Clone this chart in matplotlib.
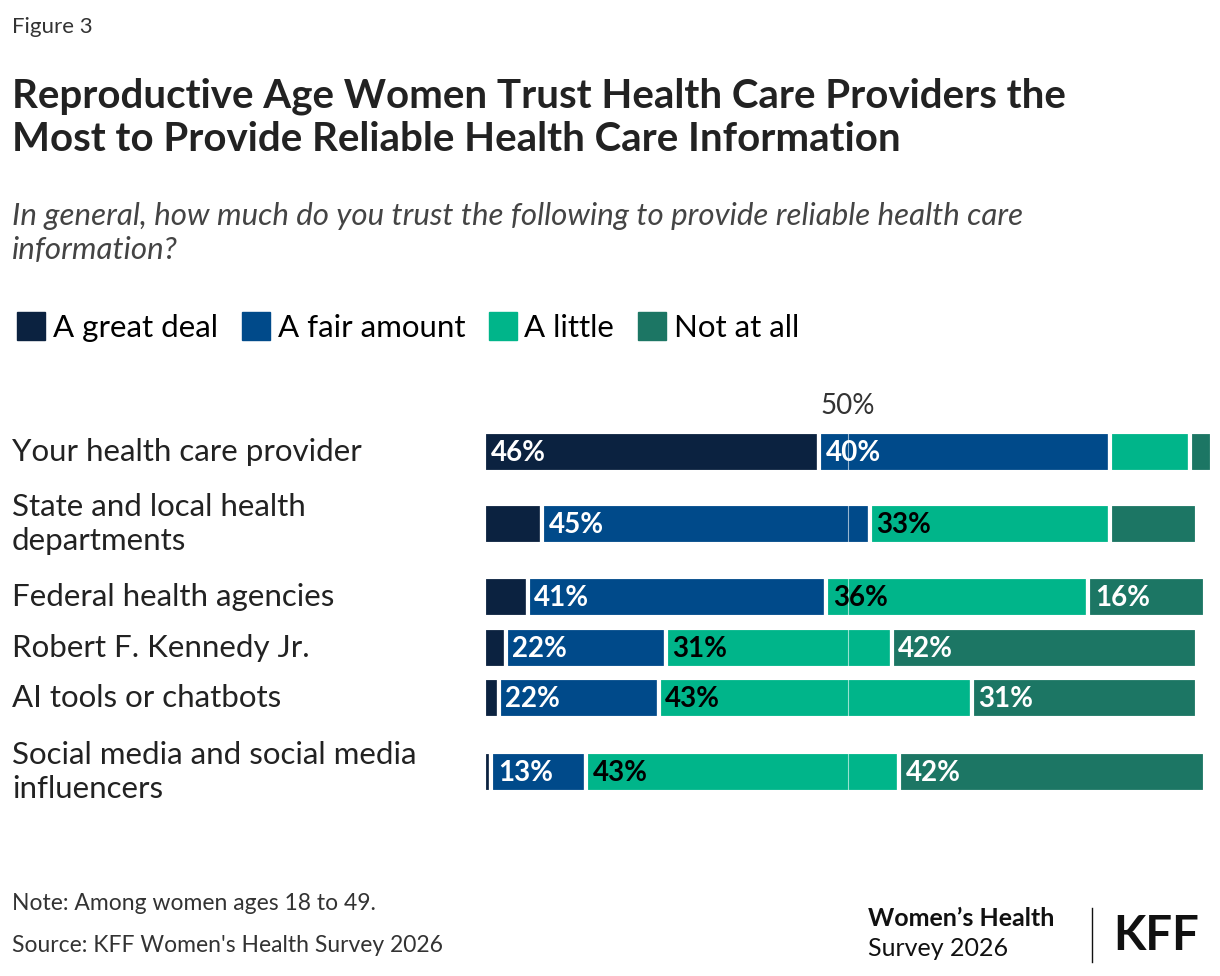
import matplotlib.pyplot as plt
from matplotlib.lines import Line2D

plt.rcParams['font.family'] = ['Lato', 'DejaVu Sans']

categories = ["Your health care provider", "State and local health\ndepartments",
              "Federal health agencies", "Robert F. Kennedy Jr.",
              "AI tools or chatbots", "Social media and social media\ninfluencers"]
series = ["A great deal", "A fair amount", "A little", "Not at all"]
values = [
    [46, 8, 6, 3, 2, 1],
    [40, 45, 41, 22, 22, 13],
    [11, 33, 36, 31, 43, 43],
    [3, 12, 16, 42, 31, 42],
]
colors = ["#0b2240", "#004a8a", "#00b58a", "#1c7664"]
text_colors = ["white", "white", "black", "white"]
row_y = [452, 524, 597, 648, 698, 772]  # row centres in pixels

W, H = 1220, 976
fig = plt.figure(figsize=(W / 100, H / 100), dpi=100)

ax = fig.add_axes([484 / W, 1 - 820 / H, 728 / W, 420 / H])
ax.set_xlim(0, 100)
ax.set_ylim(820, 400)
ax.axis("off")

left = [0] * len(categories)
for s, vals in enumerate(values):
    ax.barh(row_y, vals, left=left, height=40, color=colors[s],
            edgecolor="white", linewidth=3)
    for i, v in enumerate(vals):
        if v >= 13:
            ax.text(left[i] + 0.9, row_y[i] + 1, f"{v}%", va="center", ha="left",
                    fontsize=20, fontweight="bold", color=text_colors[s])
    left = [l + v for l, v in zip(left, vals)]

ax.axvline(50, color="white", lw=0.8, alpha=0.6, ymin=0, ymax=0.93)
ax.text(50, 406, "50%", ha="center", va="center", fontsize=20, color="#333333")

for c, y in zip(categories, row_y):
    fig.text(12 / W, 1 - y / H, c, ha="left", va="center", fontsize=22.5,
             color="#222222", linespacing=1.25)

fig.text(12 / W, 1 - 27 / H, "Figure 3", fontsize=16, color="#333333", va="center")
fig.text(12 / W, 1 - 118 / H,
         "Reproductive Age Women Trust Health Care Providers the\nMost to Provide Reliable Health Care Information",
         fontsize=29, fontweight="bold", color="#222222", va="center", linespacing=1.2)
fig.text(12 / W, 1 - 233 / H,
         "In general, how much do you trust the following to provide reliable health care\ninformation?",
         fontsize=22.5, style="italic", color="#444444", va="center", linespacing=1.25)

handles = [Line2D([], [], marker="s", ls="", markersize=20, color=c) for c in colors]
fig.legend(handles, series, loc="center left", bbox_to_anchor=(0, 1 - 328 / H),
           ncol=4, frameon=False, fontsize=22.5, handlelength=0.8, handletextpad=0.3,
           columnspacing=0.8, borderaxespad=0.2)

fig.text(12 / W, 1 - 903 / H, "Note: Among women ages 18 to 49.", fontsize=16.5,
         color="#333333", va="center")
fig.text(12 / W, 1 - 946 / H, "Source: KFF Women's Health Survey 2026", fontsize=16.5,
         color="#333333", va="center")
fig.text(868 / W, 1 - 918 / H, "Women’s Health", fontsize=18, fontweight="bold",
         color="#111111", va="center")
fig.text(868 / W, 1 - 948 / H, "Survey 2026", fontsize=18, color="#111111", va="center")
fig.add_artist(Line2D([1092 / W, 1092 / W], [1 - 908 / H, 1 - 962 / H], color="#111111", lw=1))
fig.text(1113 / W, 1 - 936 / H, "KFF", fontsize=34, fontweight="bold", color="#111111",
         va="center")

fig.savefig("out.png", dpi=100, facecolor="white")
